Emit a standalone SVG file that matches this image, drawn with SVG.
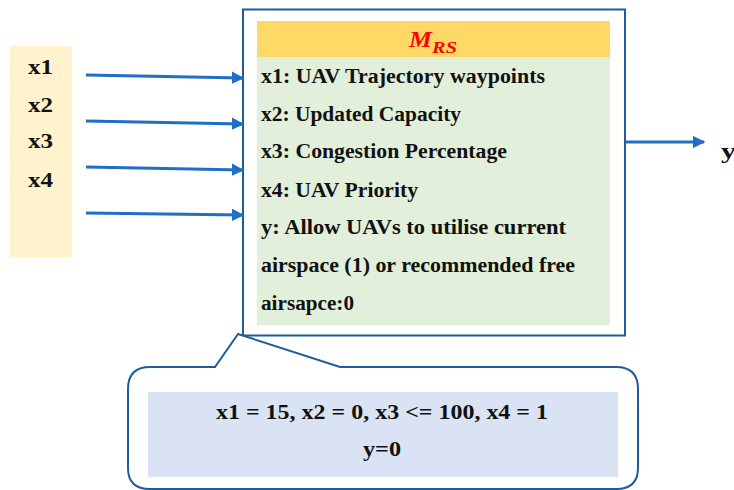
<svg xmlns="http://www.w3.org/2000/svg" width="734" height="490" viewBox="0 0 734 490">
  <defs>
    <marker id="arrow" viewBox="0 0 10 10" refX="9" refY="5" markerWidth="4.2" markerHeight="4.2" orient="auto" markerUnits="strokeWidth">
      <path d="M0,0 L10,5 L0,10 Z" fill="#1f6fc6"/>
    </marker>
  </defs>
  <style>
    .txt { font-family: "Liberation Serif", "Times New Roman", serif; font-weight: bold; fill: #111; }
    .in { font-size: 21px; }
    .row { font-size: 20.5px; }
    .conn { stroke: #1f6fc6; stroke-width: 3; fill: none; marker-end: url(#arrow); }
    .frame { stroke: #1f5c99; stroke-width: 2; fill: #fff; }
  </style>

  <rect width="734" height="490" fill="#fff"/>

  <!-- input variables -->
  <g id="inputs">
    <rect x="10" y="46" width="62" height="211" fill="#fff2cc"/>
    <text class="txt in" x="28" y="74" textLength="25" lengthAdjust="spacingAndGlyphs">x1</text>
    <text class="txt in" x="28" y="112" textLength="25" lengthAdjust="spacingAndGlyphs">x2</text>
    <text class="txt in" x="28" y="148" textLength="25" lengthAdjust="spacingAndGlyphs">x3</text>
    <text class="txt in" x="28" y="187" textLength="25" lengthAdjust="spacingAndGlyphs">x4</text>
  </g>

  <!-- rule-set model -->
  <g id="model">
    <rect class="frame" x="243" y="9.5" width="382" height="326"/>
    <rect x="257" y="21" width="353" height="36" fill="#ffd966"/>
    <rect x="257" y="57" width="353" height="268" fill="#e2efda"/>
    <text x="409" y="47" font-family="Liberation Serif, serif" font-weight="bold" font-style="italic" font-size="24" fill="#ff0000"><tspan textLength="23" lengthAdjust="spacingAndGlyphs">M</tspan><tspan font-size="17" dy="6" textLength="25" lengthAdjust="spacingAndGlyphs">RS</tspan></text>
    <text class="txt row" x="261" y="83" textLength="284" lengthAdjust="spacingAndGlyphs">x1: UAV Trajectory waypoints</text>
    <text class="txt row" x="261" y="121" textLength="200" lengthAdjust="spacingAndGlyphs">x2: Updated Capacity</text>
    <text class="txt row" x="261" y="158" textLength="246" lengthAdjust="spacingAndGlyphs">x3: Congestion Percentage</text>
    <text class="txt row" x="261" y="197" textLength="157" lengthAdjust="spacingAndGlyphs">x4: UAV Priority</text>
    <text class="txt row" x="261" y="234" textLength="305" lengthAdjust="spacingAndGlyphs">y: Allow UAVs to utilise current</text>
    <text class="txt row" x="261" y="272" textLength="314" lengthAdjust="spacingAndGlyphs">airspace (1) or recommended free</text>
    <text class="txt row" x="261" y="310" textLength="93" lengthAdjust="spacingAndGlyphs">airsapce:0</text>
  </g>

  <!-- output -->
  <g id="output">
    <text class="txt in" x="721" y="158" textLength="15" lengthAdjust="spacingAndGlyphs">y</text>
  </g>

  <!-- example callout -->
  <g id="callout">
    <path class="frame" d="M238,334 L215,367 L150,367 Q128,367 128,389 L128,468 Q128,489 150,489 L616,489 Q638,489 638,468 L638,389 Q638,367 616,367 L340,367 Z"/>
    <rect x="148" y="392" width="470" height="85" fill="#dae3f3"/>
    <text class="txt row" x="216" y="419" textLength="332" lengthAdjust="spacingAndGlyphs">x1 = 15, x2 = 0, x3 &lt;= 100, x4 = 1</text>
    <text class="txt row" x="363" y="456" textLength="38" lengthAdjust="spacingAndGlyphs">y=0</text>
  </g>

  <!-- connectors -->
  <g id="connectors">
    <line class="conn" x1="86" y1="75" x2="243" y2="78"/>
    <line class="conn" x1="86" y1="121" x2="243" y2="124"/>
    <line class="conn" x1="86" y1="167" x2="243" y2="170"/>
    <line class="conn" x1="86" y1="213" x2="243" y2="215"/>
    <line class="conn" x1="626" y1="142" x2="704" y2="142"/>
  </g>
</svg>
